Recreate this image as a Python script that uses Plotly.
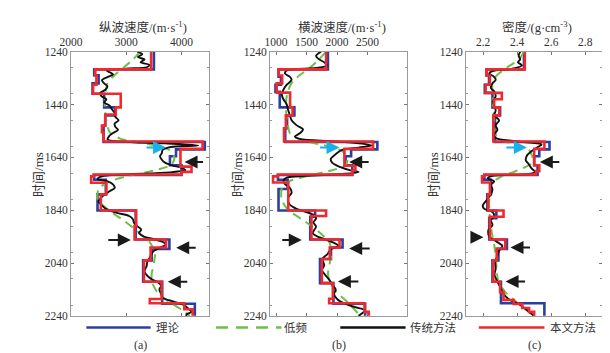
import plotly.graph_objects as go

W, H = 610, 353
T0, T1 = 1240, 2240

# ---------------- Panel (a) P-wave velocity ----------------
a_theory_t = [1240, 1307, 1329, 1360, 1399, 1451, 1481, 1520, 1582, 1610, 1636, 1670, 1707, 1725, 1780, 1841, 1951, 1987, 2030, 2111, 2194]
a_theory_v = [3500, 2420, 2500, 2390, 2600, 2800, 2620, 2590, 4420, 3900, 3790, 4000, 2420, 2630, 2480, 3170, 3780, 3460, 3305, 3650, 4240]
a_new_t = [1240, 1307, 1330, 1365, 1399, 1451, 1478, 1520, 1545, 1580, 1608, 1675, 1695, 1705, 1712, 1736, 1780, 1841, 1900, 1951, 1981, 2030, 2111, 2176, 2192, 2215]
a_new_v = [3450, 2440, 2460, 2400, 2900, 2810, 2620, 2560, 2590, 4380, 3980, 4180, 4000, 2410, 2365, 2640, 2540, 3180, 3150, 3720, 3440, 3320, 3640, 3425, 4050, 4200]
a_trad_t = [1240, 1250, 1260, 1270, 1280, 1290, 1298, 1304, 1310, 1318, 1326, 1336, 1348, 1360, 1372, 1384, 1396, 1408, 1420, 1432, 1444, 1458, 1472, 1486, 1500, 1512, 1524, 1536, 1548, 1560, 1572, 1580, 1587, 1595, 1602, 1612, 1625, 1636, 1648, 1660, 1670, 1680, 1688, 1697, 1705, 1712, 1722, 1730, 1742, 1756, 1768, 1782, 1796, 1808, 1822, 1836, 1850, 1862, 1874, 1888, 1902, 1914, 1926, 1938, 1950, 1962, 1971, 1982, 1994, 2008, 2022, 2035, 2050, 2072, 2088, 2100, 2114, 2126, 2140, 2157, 2172, 2186, 2200, 2212, 2225, 2233, 2240]
a_trad_v = [3200, 3290, 3210, 3330, 3260, 3420, 3380, 3000, 2640, 2700, 2760, 2660, 2560, 2600, 2660, 2620, 2530, 2550, 2640, 2600, 2700, 2740, 2790, 2800, 2860, 2790, 2800, 2850, 2760, 2690, 2660, 2900, 3700, 4300, 3770, 3660, 3640, 3610, 3640, 3700, 3830, 4000, 4070, 3780, 2900, 2560, 2480, 2650, 2760, 2790, 2700, 2600, 2530, 2500, 2560, 2640, 2830, 3050, 3120, 3140, 3210, 3270, 3230, 3300, 3500, 3680, 3720, 3610, 3500, 3450, 3420, 3380, 3370, 3330, 3380, 3450, 3580, 3630, 3600, 3630, 3660, 3860, 4050, 4120, 4180, 4100, 4080]
a_low_t = [1240, 1270, 1300, 1330, 1360, 1400, 1450, 1500, 1545, 1570, 1590, 1612, 1640, 1668, 1690, 1712, 1735, 1760, 1800, 1840, 1880, 1920, 1960, 2000, 2040, 2080, 2110, 2150, 2185, 2215, 2240]
a_low_v = [3250, 3120, 2950, 2780, 2660, 2620, 2610, 2640, 2700, 2900, 3400, 3780, 3870, 3820, 3500, 3000, 2650, 2500, 2480, 2680, 2960, 3200, 3420, 3520, 3500, 3460, 3460, 3560, 3760, 3990, 4150]

# ---------------- Panel (b) S-wave velocity ----------------
b_theory_t = [1240, 1307, 1335, 1365, 1392, 1451, 1481, 1530, 1582, 1610, 1636, 1670, 1707, 1725, 1760, 1841, 1865, 1951, 1981, 2025, 2116, 2194]
b_theory_v = [1850, 1040, 1080, 990, 1060, 1300, 1180, 1150, 2660, 2230, 2140, 2250, 1030, 1190, 1040, 1640, 1560, 2090, 1900, 1720, 1940, 2460]
b_new_t = [1240, 1307, 1330, 1360, 1395, 1451, 1481, 1530, 1580, 1608, 1672, 1690, 1705, 1712, 1735, 1841, 1862, 1951, 1981, 2025, 2116, 2175, 2192, 2225]
b_new_v = [1820, 1040, 1100, 1010, 1230, 1270, 1160, 1130, 2590, 2120, 2300, 2250, 1030, 950, 1200, 1820, 1580, 2040, 1880, 1750, 1930, 1870, 2450, 2520]
b_trad_t = [1240, 1256, 1268, 1280, 1292, 1302, 1311, 1323, 1335, 1347, 1366, 1384, 1402, 1420, 1439, 1463, 1481, 1500, 1518, 1534, 1549, 1561, 1570, 1579, 1588, 1595, 1603, 1612, 1628, 1646, 1661, 1677, 1689, 1695, 1702, 1710, 1717, 1729, 1741, 1756, 1774, 1792, 1817, 1835, 1847, 1860, 1872, 1886, 1902, 1927, 1945, 1961, 1975, 1988, 2006, 2024, 2049, 2067, 2085, 2103, 2122, 2140, 2158, 2177, 2195, 2207, 2219, 2231, 2240]
b_trad_v = [1736, 1655, 1698, 1789, 1843, 1655, 1173, 1146, 1227, 1254, 1173, 1120, 1093, 1120, 1173, 1200, 1227, 1254, 1334, 1441, 1388, 1307, 1388, 1923, 2405, 2566, 2352, 2084, 1977, 1896, 1923, 2057, 2218, 2352, 2138, 1495, 1173, 1120, 1146, 1227, 1254, 1200, 1216, 1334, 1495, 1629, 1655, 1613, 1655, 1602, 1736, 1923, 2020, 1896, 1843, 1762, 1789, 1752, 1805, 1870, 1923, 1977, 1950, 2004, 2138, 2298, 2459, 2405, 2352]
b_low_t = [1240, 1270, 1300, 1330, 1360, 1400, 1450, 1500, 1550, 1575, 1595, 1615, 1645, 1670, 1690, 1710, 1730, 1750, 1800, 1840, 1880, 1920, 1960, 2000, 2040, 2080, 2110, 2150, 2190, 2240]
b_low_v = [1820, 1700, 1560, 1380, 1250, 1180, 1160, 1180, 1230, 1420, 1800, 2080, 2170, 2140, 1900, 1520, 1220, 1100, 1090, 1200, 1460, 1690, 1870, 1910, 1880, 1850, 1880, 1990, 2180, 2380]

# ---------------- Panel (c) density ----------------
c_theory_t = [1240, 1307, 1330, 1365, 1396, 1451, 1481, 1582, 1610, 1636, 1670, 1707, 1725, 1780, 1841, 1870, 1951, 1987, 2030, 2111, 2192]
c_theory_v = [2.44, 2.22, 2.235, 2.21, 2.255, 2.30, 2.27, 2.59, 2.53, 2.50, 2.52, 2.207, 2.246, 2.225, 2.278, 2.236, 2.34, 2.29, 2.255, 2.305, 2.56]
c_new_t = [1240, 1307, 1330, 1365, 1396, 1420, 1451, 1481, 1580, 1608, 1670, 1692, 1705, 1712, 1735, 1780, 1841, 1865, 1951, 1985, 2030, 2111, 2150, 2180, 2195, 2210, 2225]
c_new_v = [2.445, 2.22, 2.24, 2.215, 2.31, 2.265, 2.295, 2.26, 2.56, 2.50, 2.53, 2.51, 2.207, 2.194, 2.24, 2.23, 2.32, 2.24, 2.33, 2.28, 2.26, 2.30, 2.32, 2.38, 2.43, 2.47, 2.50]
c_trad_t = [1240, 1256, 1268, 1280, 1292, 1305, 1314, 1323, 1335, 1347, 1360, 1378, 1390, 1408, 1427, 1445, 1463, 1481, 1500, 1518, 1536, 1555, 1567, 1579, 1591, 1600, 1616, 1634, 1652, 1664, 1683, 1695, 1703, 1710, 1719, 1731, 1744, 1762, 1780, 1805, 1823, 1835, 1847, 1860, 1878, 1896, 1914, 1939, 1957, 1975, 1994, 2012, 2036, 2061, 2085, 2110, 2134, 2158, 2177, 2195, 2213, 2225, 2240]
c_trad_v = [2.418, 2.409, 2.418, 2.405, 2.428, 2.370, 2.255, 2.236, 2.265, 2.274, 2.255, 2.246, 2.265, 2.274, 2.259, 2.265, 2.274, 2.265, 2.294, 2.274, 2.284, 2.265, 2.274, 2.390, 2.543, 2.524, 2.486, 2.457, 2.451, 2.466, 2.486, 2.505, 2.466, 2.255, 2.227, 2.265, 2.246, 2.255, 2.246, 2.217, 2.198, 2.207, 2.255, 2.265, 2.246, 2.255, 2.232, 2.236, 2.274, 2.313, 2.294, 2.284, 2.271, 2.274, 2.267, 2.284, 2.303, 2.322, 2.351, 2.409, 2.447, 2.470, 2.50]
c_low_t = [1240, 1270, 1300, 1330, 1360, 1400, 1450, 1500, 1550, 1575, 1592, 1612, 1640, 1665, 1690, 1712, 1735, 1770, 1820, 1870, 1920, 1970, 2020, 2070, 2110, 2150, 2190, 2240]
c_low_v = [2.44, 2.41, 2.34, 2.28, 2.255, 2.255, 2.26, 2.265, 2.27, 2.30, 2.40, 2.47, 2.49, 2.48, 2.40, 2.31, 2.255, 2.24, 2.235, 2.24, 2.25, 2.265, 2.275, 2.28, 2.29, 2.33, 2.40, 2.50]

# arrows: (value, time, tail offset in px) per panel
a_arrow_cyan = (3720, 1603, -21)
a_arrows = [(4054, 1658, 20), (3082, 1953, -24), (3903, 1982, 21), (3751, 2111, 21)]
b_arrow_cyan = (2040, 1603, -21)
b_arrows = [(2198, 1658, 21), (1421, 1953, -21), (2198, 1985, 22), (2013, 2110, 22)]
c_arrow_cyan = (2.457, 1603, -22)
c_arrows = [(2.533, 1658, 21), (2.202, 1942, -14), (2.361, 1981, 21), (2.332, 2110, 21)]

x_titles = ["纵波速度/(m·s<sup>-1</sup>)", "横波速度/(m·s<sup>-1</sup>)", "密度/(g·cm<sup>-3</sup>)"]
x_ranges = [[2000, 4500], [900, 3150], [2.1, 2.9]]
x_ticks = [[2000, 3000, 4000], [1000, 1500, 2000, 2500], [2.2, 2.4, 2.6, 2.8]]
x_ticktext = [["2000", "3000", "4000"], ["1000", "1500", "2000", "2500"], ["2.2", "2.4", "2.6", "2.8"]]
y_ticks = [1240, 1440, 1640, 1840, 2040, 2240]
panel_labels = ["(a)", "(b)", "(c)"]
legend_names = ["理论", "低频", "传统方法", "本文方法"]

BLUE = "#2b3f9e"
GREEN = "#6cc04a"
BLACK = "#111111"
RED = "#ee2a2f"
CYAN = "#1ab0e8"
FONT = "Liberation Serif, Noto Sans CJK SC"
TXT = "#333333"

# pixel layout
px_left = [52, 255, 455]
px_right = [193, 395, 594]
py_top, py_bot = 39, 312.5

def step_xy(ts, vs):
    return list(vs) + [vs[-1]], list(ts) + [T1]

panels = [
    (a_theory_t, a_theory_v, a_low_t, a_low_v, a_trad_t, a_trad_v, a_new_t, a_new_v, a_arrow_cyan, a_arrows),
    (b_theory_t, b_theory_v, b_low_t, b_low_v, b_trad_t, b_trad_v, b_new_t, b_new_v, b_arrow_cyan, b_arrows),
    (c_theory_t, c_theory_v, c_low_t, c_low_v, c_trad_t, c_trad_v, c_new_t, c_new_v, c_arrow_cyan, c_arrows),
]

fig = go.Figure()
annotations = []
shapes = []
layout = {}
for i, (tt, tv, lt, lv, rt, rv, nt, nv, cy, arrs) in enumerate(panels):
    xa = "x" if i == 0 else f"x{i+1}"
    ya = "y" if i == 0 else f"y{i+1}"
    sx, sy = step_xy(tt, tv)
    fig.add_trace(go.Scatter(x=sx, y=sy, mode="lines", line=dict(color=BLUE, width=2.6, shape="vh"),
                             xaxis=xa, yaxis=ya, showlegend=False, hoverinfo="skip"))
    fig.add_trace(go.Scatter(x=lv, y=lt, mode="lines", line=dict(color=GREEN, width=2, dash="9px,6px", shape="spline", smoothing=0.6),
                             xaxis=xa, yaxis=ya, showlegend=False, hoverinfo="skip"))
    fig.add_trace(go.Scatter(x=rv, y=rt, mode="lines", line=dict(color=BLACK, width=1.9, shape="spline", smoothing=0.9),
                             xaxis=xa, yaxis=ya, showlegend=False, hoverinfo="skip"))
    sx, sy = step_xy(nt, nv)
    fig.add_trace(go.Scatter(x=sx, y=sy, mode="lines", line=dict(color=RED, width=2.6, shape="vh"),
                             xaxis=xa, yaxis=ya, showlegend=False, hoverinfo="skip"))

    axis_common = dict(showline=True, linecolor="#9a9a9a", linewidth=1, mirror="ticks",
                       ticks="inside", ticklen=3, tickcolor="#777", showgrid=False, zeroline=False,
                       tickfont=dict(family=FONT, size=11.5, color=TXT))
    key_x = "xaxis" if i == 0 else f"xaxis{i+1}"
    key_y = "yaxis" if i == 0 else f"yaxis{i+1}"
    layout[key_x] = dict(axis_common, domain=[px_left[i] / W, px_right[i] / W], range=x_ranges[i],
                         side="top", anchor=ya, tickmode="array", tickvals=x_ticks[i], ticktext=x_ticktext[i])
    layout[key_y] = dict(axis_common, domain=[1 - py_bot / H, 1 - py_top / H], range=[T1, T0],
                         anchor=xa, tickmode="array", tickvals=y_ticks,
                         minor=dict(dtick=100, ticks="inside", ticklen=2, tickcolor="#999"))

    # axis titles
    cx = (px_left[i] + px_right[i]) / 2
    annotations.append(dict(text=x_titles[i], xref="paper", yref="paper", x=(cx + 3) / W, y=1 - 13.5 / H,
                            showarrow=False, xanchor="center", yanchor="middle",
                            font=dict(family=FONT, size=12.5, color=TXT)))
    annotations.append(dict(text="时间/ms", xref="paper", yref="paper", x=(px_left[i] - 33) / W, y=1 - 166 / H,
                            showarrow=False, textangle=-90, xanchor="center", yanchor="middle",
                            font=dict(family=FONT, size=13, color=TXT)))
    annotations.append(dict(text=panel_labels[i], xref="paper", yref="paper", x=cx / W, y=1 - 343 / H,
                            showarrow=False, xanchor="center", yanchor="middle",
                            font=dict(family=FONT, size=12, color=TXT)))
    # arrows
    annotations.append(dict(x=cy[0], y=cy[1], xref=xa, yref=ya, ax=cy[2], ay=0, text="", showarrow=True,
                            arrowhead=2, arrowsize=1.3, arrowwidth=2, arrowcolor=CYAN))
    for (v, t, off) in arrs:
        annotations.append(dict(x=v, y=t, xref=xa, yref=ya, ax=off, ay=0, text="", showarrow=True,
                                arrowhead=2, arrowsize=1.3, arrowwidth=2, arrowcolor="#1a1a1a"))

# legend at bottom (drawn manually)
leg_y = 1 - 324.5 / H
leg_lines = [(67.7, 133.3, BLUE, "solid"), (200, 266.7, GREEN, "dash"), (326.7, 393.3, BLACK, "solid"), (468, 535, RED, "solid")]
leg_text_x = [137, 267, 396, 539]
for (x0, x1, col, ds), name, tx in zip(leg_lines, legend_names, leg_text_x):
    shapes.append(dict(type="line", xref="paper", yref="paper", x0=x0 / W, x1=x1 / W, y0=leg_y, y1=leg_y,
                       line=dict(color=col, width=2.6, dash=("12px,8px" if ds == "dash" else "solid"))))
    annotations.append(dict(text=name, xref="paper", yref="paper", x=tx / W, y=leg_y, showarrow=False,
                            xanchor="left", yanchor="middle", font=dict(family=FONT, size=11.5, color=TXT)))

fig.update_layout(**layout)
fig.update_layout(width=W, height=H, margin=dict(l=0, r=0, t=0, b=0), paper_bgcolor="white",
                  plot_bgcolor="white", showlegend=False, annotations=annotations, shapes=shapes)
fig.write_html("out.html")
